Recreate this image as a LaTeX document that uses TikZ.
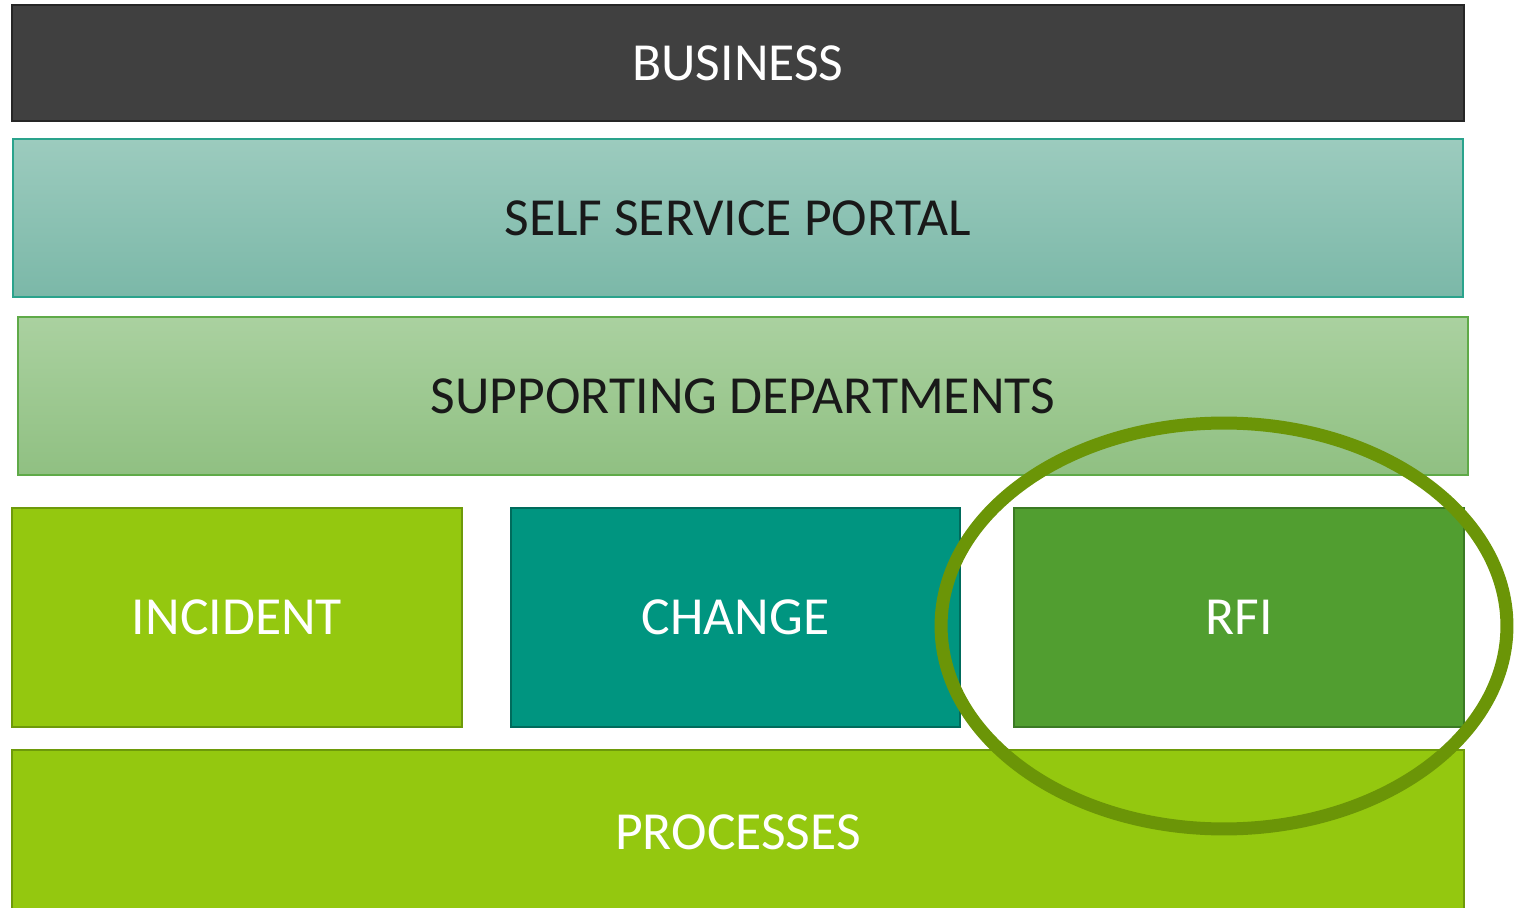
\documentclass[tikz,border=0pt]{standalone}
\usepackage{fontspec}
\setmainfont{Carlito}
\definecolor{bizgray}{HTML}{404040}
\definecolor{bizline}{HTML}{262626}
\definecolor{portaltop}{HTML}{9CCBBE}
\definecolor{portalbot}{HTML}{7BB8A8}
\definecolor{portalline}{HTML}{2AA38C}
\definecolor{supptop}{HTML}{AAD1A0}
\definecolor{suppbot}{HTML}{90C082}
\definecolor{suppline}{HTML}{5FAA48}
\definecolor{lime}{HTML}{94C80F}
\definecolor{limeline}{HTML}{6E9A0A}
\definecolor{teal}{HTML}{009580}
\definecolor{tealline}{HTML}{006B5C}
\definecolor{leaf}{HTML}{519E30}
\definecolor{leafline}{HTML}{3B7A24}
\definecolor{ringgreen}{HTML}{6B9507}
\tikzset{
  layer/.style={rectangle, inner sep=0pt, outer sep=0pt, line width=0.04cm,
    font=\fontsize{30.5}{37}\selectfont, text=white},
  wide/.style={layer, minimum width=29.04cm},
  block/.style={layer, minimum width=9cm, minimum height=4.38cm},
  ring/.style={draw=ringgreen, line width=0.26cm}
}
\begin{document}
\begin{tikzpicture}[x=0.02cm, y=-0.02cm]
\useasboundingbox (0,0) rectangle (1515,908);

% capas de arriba
\node[wide, fill=bizgray, draw=bizline, minimum height=2.32cm] (business) at (738,63) {BUSINESS};
\node[wide, minimum width=29cm, minimum height=3.16cm, top color=portaltop, bottom color=portalbot,
  draw=portalline, text=black!90] (portal) at (738,218) {SELF SERVICE PORTAL};
\node[wide, minimum width=29cm, minimum height=3.16cm, top color=supptop, bottom color=suppbot,
  draw=suppline, text=black!90] (support) at (743,396) {SUPPORTING DEPARTMENTS};

% los tres bloques
\node[block, fill=lime, draw=limeline] (incident) at (237,617.5) {INCIDENT};
\node[block, minimum width=8.98cm, fill=teal, draw=tealline] (change) at (735.5,617.5) {CHANGE};
\node[block, fill=leaf, draw=leafline] (rfi) at (1239,617.5) {RFI};

% base
\node[wide, fill=lime, draw=limeline, minimum height=3.28cm] (processes) at (738,832) {PROCESSES};

% el circulo sobre RFI
\draw[ring] (1224,626) ellipse [x radius=5.66cm, y radius=4.06cm];
\end{tikzpicture}
\end{document}
